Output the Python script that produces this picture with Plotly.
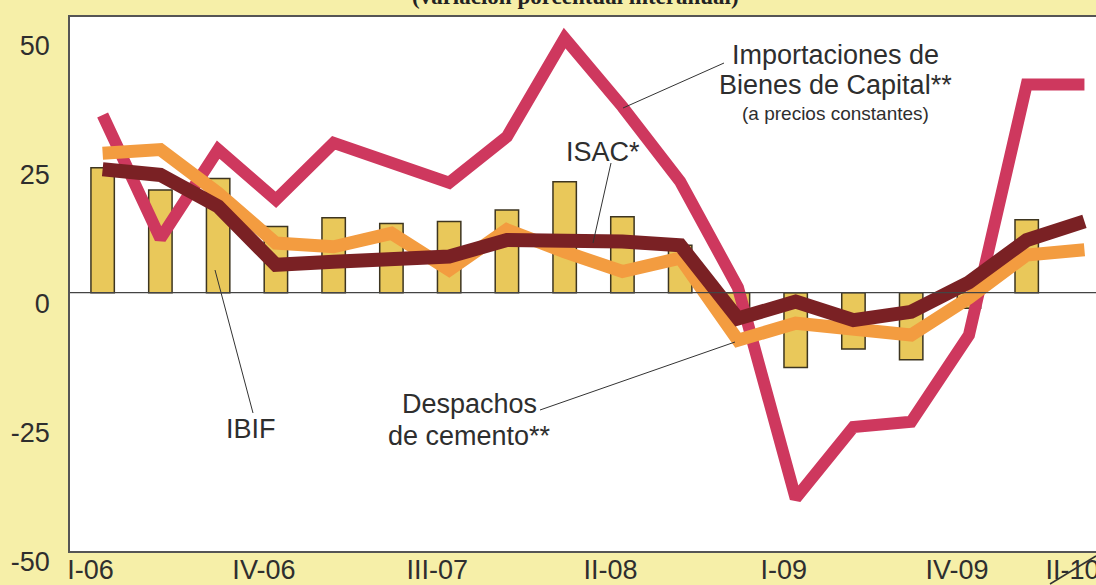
import plotly.graph_objects as go

# ---------------- data ----------------
quarters = ["I-06", "II-06", "III-06", "IV-06",
            "I-07", "II-07", "III-07", "IV-07",
            "I-08", "II-08", "III-08", "IV-08",
            "I-09", "II-09", "III-09", "IV-09",
            "I-10", "II-10"]
tick_labels = ["I-06", "IV-06", "III-07", "II-08", "I-09", "IV-09", "II-10"]

ibif = [24.2, 19.9, 22.1, 12.8, 14.5, 13.4, 13.8, 16.0, 21.5, 14.7, 9.2,
        -4.0, -14.5, -10.9, -13.0, -3.0, 14.1, None]
importaciones = [34.4, 10.5, 27.7, 18.0, 29.0, 25.3, 21.3, 30.2, 49.3, 36.0, 21.5,
                 1.0, -39.8, -26.0, -25.0, -8.2, 40.3, 40.3]
isac = [23.9, 22.8, 16.7, 5.4, 6.0, 6.7, 7.0, 10.2, 10.2, 9.9, 9.2,
        -5.0, -1.7, -5.3, -3.7, 2.0, 10.2, 13.8]
cemento = [27.0, 27.7, 19.3, 9.6, 8.9, 11.5, 4.4, 12.2, 7.9, 4.1, 6.7,
           -9.2, -5.9, -7.2, -8.2, -1.0, 7.3, 8.3]

# ---------------- layout constants ----------------
W, H = 1096, 585
ML, MR, MT, MB = 70, 0, 17, 34
X_RANGE = [-0.565, 17.2]
Y_RANGE = [-50, 53.37]
PW, PH = W - ML - MR, H - MT - MB

BG = "#F6EFA8"
BAR_FILL = "#E9C85A"
BAR_LINE = "#3d3520"
C_IMP = "#CE385E"
C_CEM = "#F39C40"
C_ISAC = "#7A2124"
TXT = "#2e2e2e"
FONT = "Liberation Sans, Arial, sans-serif"


def px_x(px):
    return X_RANGE[0] + (px - ML) / PW * (X_RANGE[1] - X_RANGE[0])


def px_y(py):
    return Y_RANGE[1] - (py - MT) / PH * (Y_RANGE[1] - Y_RANGE[0])


fig = go.Figure()

fig.add_trace(go.Bar(
    x=quarters, y=ibif, width=0.405,
    marker=dict(color=BAR_FILL, line=dict(color=BAR_LINE, width=1.5)),
    name="IBIF",
))
fig.add_trace(go.Scatter(x=quarters, y=importaciones, mode="lines",
                         line=dict(color=C_IMP, width=12), name="Importaciones"))
fig.add_trace(go.Scatter(x=quarters, y=cemento, mode="lines",
                         line=dict(color=C_CEM, width=13), name="Despachos de cemento"))
fig.add_trace(go.Scatter(x=quarters, y=isac, mode="lines",
                         line=dict(color=C_ISAC, width=14), name="ISAC"))

# text labels
def label(text, px, py, size=27):
    fig.add_annotation(x=px_x(px), y=px_y(py), xref="x", yref="y", text=text,
                       showarrow=False, xanchor="center", yanchor="middle",
                       font=dict(family=FONT, size=size, color=TXT))

label("Importaciones de", 835, 55)
label("Bienes de Capital**", 835, 85)
label("(a precios constantes)", 835, 113, size=19)
label("ISAC*", 603, 152)
label("IBIF", 251, 429)
label("Despachos", 469, 404)
label("de cemento**", 469, 436)

# leader lines
def leader(x0, y0, x1, y1):
    fig.add_shape(type="line", xref="x", yref="y",
                  x0=px_x(x0), y0=px_y(y0), x1=px_x(x1), y1=px_y(y1),
                  line=dict(color="#333333", width=1))

leader(724, 63, 623, 108)
leader(611, 163, 593, 243)
leader(215, 270, 253, 413)
leader(540, 410, 735, 342)

# zero line above traces
fig.add_shape(type="line", xref="paper", yref="y", x0=0, x1=1, y0=0, y1=0,
              line=dict(color="#444444", width=1.3), layer="above")

# clipped subtitle at the very top
fig.add_annotation(x=(575 - ML) / PW, y=(MT + PH + 3) / PH, xref="paper", yref="paper",
                   text="<b>(variación porcentual interanual)</b>", showarrow=False,
                   xanchor="center", yanchor="middle",
                   font=dict(family="Liberation Serif, Times New Roman, serif", size=23, color="#222222"))

# small diagonal stroke at bottom right
fig.add_shape(type="line", xref="paper", yref="paper",
              x0=(1050 - ML) / PW, y0=(MT + PH - 584) / PH,
              x1=(1096 - ML) / PW, y1=(MT + PH - 556) / PH,
              line=dict(color="#333333", width=1.5))

fig.update_layout(
    width=W, height=H,
    margin=dict(l=ML, r=MR, t=MT, b=MB, autoexpand=False),
    paper_bgcolor=BG, plot_bgcolor="white",
    showlegend=False,
    font=dict(family=FONT, size=27, color=TXT),
)
fig.update_xaxes(
    type="category", categoryorder="array", categoryarray=quarters,
    range=X_RANGE, tickmode="array", tickvals=tick_labels, ticktext=tick_labels,
    ticks="", ticklabelstandoff=-6,
    showline=True, linecolor="#555555", linewidth=1.5, mirror=True,
    showgrid=False, zeroline=False, ticklabelshift=-12, automargin=False,
    tickfont=dict(family=FONT, size=27, color=TXT),
)
fig.update_yaxes(
    range=Y_RANGE, tickmode="array", tickvals=[-50, -25, 0, 25, 50],
    ticktext=["-50", "-25", "0", "25", "50"],
    ticks="outside", ticklen=13, tickcolor="rgba(0,0,0,0)",
    showline=True, linecolor="#555555", linewidth=1.5, mirror=False,
    showgrid=False, zeroline=False, ticklabelshift=11, automargin=False,
    tickfont=dict(family=FONT, size=27, color=TXT),
)

fig.write_html(
    "out.html",
    config={"displayModeBar": False},
    post_script="document.body.style.margin='0';document.body.style.overflow='hidden';",
)
